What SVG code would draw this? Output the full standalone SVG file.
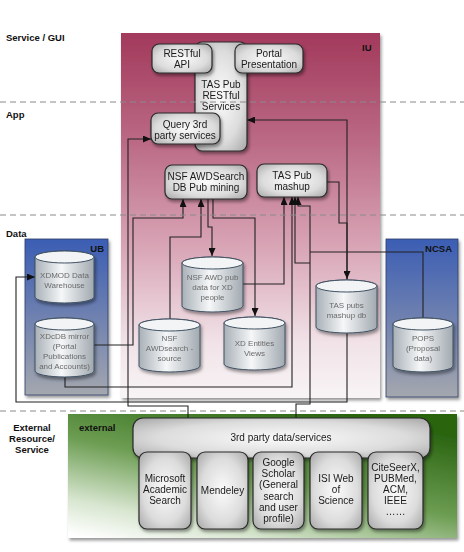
<svg xmlns="http://www.w3.org/2000/svg" width="464" height="552" viewBox="0 0 464 552">
<style>
.sec{font-family:"Liberation Sans",Arial,sans-serif;font-size:9.5px;font-weight:bold;fill:#111}
.lbl{font-family:"Liberation Sans",Arial,sans-serif;font-size:9.5px;font-weight:bold;fill:#111}
.bt{font-family:"Liberation Sans",Arial,sans-serif;font-size:10px;fill:#1a1a1a;text-anchor:middle}
.ct{font-family:"Liberation Sans",Arial,sans-serif;font-size:8px;fill:#6a6a6a;text-anchor:middle}
.box{fill:url(#boxGrad);stroke:#2a2a2a;stroke-width:1.2}
.cyl{fill:url(#cylGrad);stroke:#3f5061;stroke-width:1}
.cyltop{fill:#f2f4f6;stroke:#3f5061;stroke-width:1}
.dash{stroke:#8a8a8a;stroke-width:1;stroke-dasharray:6,4;fill:none}
.conn{fill:none;stroke:#222;stroke-width:1.1}
.arr{marker-end:url(#ah)}
</style>
<defs>
<linearGradient id="iuGrad" x1="0" y1="0" x2="0" y2="1">
<stop offset="0" stop-color="#a2395b"/>
<stop offset="0.3" stop-color="#bb6a85"/>
<stop offset="0.6" stop-color="#daa8b8"/>
<stop offset="0.85" stop-color="#f1e3e8"/>
<stop offset="1" stop-color="#f8f4f5"/>
</linearGradient>
<linearGradient id="ubGrad" x1="0" y1="0" x2="0" y2="1">
<stop offset="0" stop-color="#3b5db4"/>
<stop offset="0.5" stop-color="#6f81b0"/>
<stop offset="1" stop-color="#a4a7ae"/>
</linearGradient>
<linearGradient id="grGrad" x1="0.7" y1="0" x2="0.05" y2="1">
<stop offset="0" stop-color="#2b6511"/>
<stop offset="0.45" stop-color="#6c9d52"/>
<stop offset="0.8" stop-color="#d8e6d0"/>
<stop offset="1" stop-color="#ffffff"/>
</linearGradient>
<radialGradient id="boxGrad" cx="0.5" cy="0.5" r="0.7">
<stop offset="0" stop-color="#fbfbfb"/>
<stop offset="0.6" stop-color="#dcdcdc"/>
<stop offset="1" stop-color="#a6a6a6"/>
</radialGradient>
<linearGradient id="cylGrad" x1="0" y1="0" x2="1" y2="0">
<stop offset="0" stop-color="#a8b0b7"/>
<stop offset="0.45" stop-color="#f5f7f8"/>
<stop offset="1" stop-color="#a1a9b0"/>
</linearGradient>
<filter id="sh" x="-10%" y="-10%" width="130%" height="130%">
<feDropShadow dx="1.5" dy="2.5" stdDeviation="1.8" flood-color="#000" flood-opacity="0.4"/>
</filter>
<marker id="ah" markerWidth="8" markerHeight="7" refX="8" refY="3.5" orient="auto" markerUnits="userSpaceOnUse">
<path d="M0,0 L8,3.5 L0,7 z" fill="#111"/>
</marker>
</defs>

<rect width="464" height="552" fill="#ffffff"/>

<!-- regions -->
<g id="region-iu">
<rect x="121" y="33" width="259" height="365" fill="url(#iuGrad)" filter="url(#sh)"/>
<text class="lbl" x="362" y="51">IU</text>
</g>
<g id="region-ub">
<rect x="25" y="239" width="83" height="156" fill="url(#ubGrad)" stroke="#2e3f66" stroke-width="0.8" filter="url(#sh)"/>
<text class="lbl" x="104" y="252" text-anchor="end">UB</text>
</g>
<g id="region-ncsa">
<rect x="386" y="239" width="72" height="158" fill="url(#ubGrad)" stroke="#2e3f66" stroke-width="0.8" filter="url(#sh)"/>
<text class="lbl" x="452" y="252" text-anchor="end">NCSA</text>
</g>
<g id="region-external">
<rect x="68" y="414" width="389" height="124" fill="url(#grGrad)" filter="url(#sh)"/>
<text class="lbl" x="79" y="431">external</text>
</g>

<!-- section labels -->
<g id="section-labels">
<text class="sec" x="6" y="41">Service / GUI</text>
<text class="sec" x="6" y="118">App</text>
<text class="sec" x="6" y="237">Data</text>
<text class="sec" x="32" y="431" text-anchor="middle">External</text>
<text class="sec" x="32" y="442" text-anchor="middle">Resource/</text>
<text class="sec" x="32" y="453" text-anchor="middle">Service</text>
</g>

<!-- connectors -->
<g id="connectors">
<path class="conn arr" d="M188,418 V406 H128 V139 H151"/>
<path class="conn arr" d="M347,280 V120 H247"/>
<path class="conn arr" d="M327,182 H339 V223 H347 V279"/>
<path class="conn arr" d="M347,333 V402 H16 V277 H35"/>
<path class="conn arr" d="M94,345 H133 V218 H183 V199"/>
<path class="conn arr" d="M170,319 V237 H201 V199"/>
<path class="conn arr" d="M208,199 V227 H212 V256"/>
<path class="conn arr" d="M213,199 V218 H255 V316"/>
<path class="conn arr" d="M243,284 H284 V197"/>
<path class="conn arr" d="M65,377 V387 H292 V197"/>
<path class="conn arr" d="M296,418 V404 H310 V206 H298 V197"/>
<path class="conn arr" d="M310,263 H295 V197"/>
<path class="conn" d="M423,318 V252 H310"/>
</g>

<!-- nodes -->
<g id="node-tas-restful" filter="url(#sh)">
<rect class="box" x="195" y="42" width="52" height="109" rx="7"/>
<text class="bt" x="221" y="88">TAS Pub</text>
<text class="bt" x="221" y="99">RESTful</text>
<text class="bt" x="221" y="110">Services</text>
</g>
<g id="node-restful-api" filter="url(#sh)">
<rect class="box" x="152" y="44" width="60" height="29" rx="7"/>
<text class="bt" x="182" y="57">RESTful</text>
<text class="bt" x="182" y="68">API</text>
</g>
<g id="node-portal" filter="url(#sh)">
<rect class="box" x="235" y="44" width="68" height="29" rx="7"/>
<text class="bt" x="269" y="57">Portal</text>
<text class="bt" x="269" y="68">Presentation</text>
</g>
<g id="node-query" filter="url(#sh)">
<rect class="box" x="151" y="113" width="69" height="31" rx="7"/>
<text class="bt" x="185" y="128">Query 3rd</text>
<text class="bt" x="185" y="139">party services</text>
</g>
<g id="node-nsf-mining" filter="url(#sh)">
<rect class="box" x="165" y="165" width="82" height="34" rx="7"/>
<text class="bt" x="206" y="180">NSF AWDSearch</text>
<text class="bt" x="206" y="191">DB Pub mining</text>
</g>
<g id="node-tas-mashup" filter="url(#sh)">
<rect class="box" x="257" y="164" width="70" height="33" rx="7"/>
<text class="bt" x="292" y="179">TAS Pub</text>
<text class="bt" x="292" y="190">mashup</text>
</g>

<g id="node-xdmod" filter="url(#sh)">
<path class="cyl" d="M35,257 A29.5,6 0 0 1 94,257 V297 A29.5,6 0 0 1 35,297 Z"/>
<ellipse class="cyltop" cx="64.5" cy="257" rx="29.5" ry="6"/>
<text class="ct" x="64.5" y="278">XDMOD Data</text>
<text class="ct" x="64.5" y="288">Warehouse</text>
</g>
<g id="node-xdcdb" filter="url(#sh)">
<path class="cyl" d="M35,324 A29.5,6 0 0 1 94,324 V371 A29.5,6 0 0 1 35,371 Z"/>
<ellipse class="cyltop" cx="64.5" cy="324" rx="29.5" ry="6"/>
<text class="ct" x="64.5" y="339">XDcDB mirror</text>
<text class="ct" x="64.5" y="349">(Portal</text>
<text class="ct" x="64.5" y="359">Publications</text>
<text class="ct" x="64.5" y="369">and Accounts)</text>
</g>
<g id="node-nsf-awd-pub" filter="url(#sh)">
<path class="cyl" d="M182,263 A30.5,6 0 0 1 243,263 V306 A30.5,6 0 0 1 182,306 Z"/>
<ellipse class="cyltop" cx="212.5" cy="263" rx="30.5" ry="6"/>
<text class="ct" x="212.5" y="280">NSF AWD pub</text>
<text class="ct" x="212.5" y="290">data for XD</text>
<text class="ct" x="212.5" y="300">people</text>
</g>
<g id="node-nsf-source" filter="url(#sh)">
<path class="cyl" d="M139,325 A30.5,6 0 0 1 200,325 V366 A30.5,6 0 0 1 139,366 Z"/>
<ellipse class="cyltop" cx="169.5" cy="325" rx="30.5" ry="6"/>
<text class="ct" x="169.5" y="341">NSF</text>
<text class="ct" x="169.5" y="351">AWDsearch -</text>
<text class="ct" x="169.5" y="361">source</text>
</g>
<g id="node-xd-entities" filter="url(#sh)">
<path class="cyl" d="M224,323 A30.5,6 0 0 1 285,323 V364 A30.5,6 0 0 1 224,364 Z"/>
<ellipse class="cyltop" cx="254.5" cy="323" rx="30.5" ry="6"/>
<text class="ct" x="254.5" y="346">XD Entities</text>
<text class="ct" x="254.5" y="356">Views</text>
</g>
<g id="node-tas-pubs-db" filter="url(#sh)">
<path class="cyl" d="M316,286 A30.5,6 0 0 1 377,286 V327 A30.5,6 0 0 1 316,327 Z"/>
<ellipse class="cyltop" cx="346.5" cy="286" rx="30.5" ry="6"/>
<text class="ct" x="346.5" y="308">TAS pubs</text>
<text class="ct" x="346.5" y="318">mashup db</text>
</g>
<g id="node-pops" filter="url(#sh)">
<path class="cyl" d="M393,324 A30,6 0 0 1 453,324 V366 A30,6 0 0 1 393,366 Z"/>
<ellipse class="cyltop" cx="423" cy="324" rx="30" ry="6"/>
<text class="ct" x="423" y="341">POPS</text>
<text class="ct" x="423" y="351">(Proposal</text>
<text class="ct" x="423" y="361">data)</text>
</g>

<g id="node-3rd-party" filter="url(#sh)">
<rect class="box" x="133" y="418" width="297" height="40" rx="10"/>
<text class="bt" x="281" y="441">3rd party data/services</text>
</g>
<g id="node-microsoft" filter="url(#sh)">
<rect class="box" x="139" y="452" width="52" height="77" rx="8"/>
<text class="bt" x="165" y="482">Microsoft</text>
<text class="bt" x="165" y="493">Academic</text>
<text class="bt" x="165" y="504">Search</text>
</g>
<g id="node-mendeley" filter="url(#sh)">
<rect class="box" x="197" y="452" width="51" height="77" rx="8"/>
<text class="bt" x="222.5" y="494">Mendeley</text>
</g>
<g id="node-google" filter="url(#sh)">
<rect class="box" x="253" y="452" width="51" height="77" rx="8"/>
<text class="bt" x="278.5" y="466">Google</text>
<text class="bt" x="278.5" y="477">Scholar</text>
<text class="bt" x="278.5" y="488">(General</text>
<text class="bt" x="278.5" y="500">search</text>
<text class="bt" x="278.5" y="511">and user</text>
<text class="bt" x="278.5" y="522">profile)</text>
</g>
<g id="node-isi" filter="url(#sh)">
<rect class="box" x="310" y="452" width="52" height="77" rx="8"/>
<text class="bt" x="336" y="482">ISI Web</text>
<text class="bt" x="336" y="493">of</text>
<text class="bt" x="336" y="504">Science</text>
</g>
<g id="node-citeseer" filter="url(#sh)">
<rect class="box" x="368" y="452" width="55" height="77" rx="8"/>
<text class="bt" x="395.5" y="471">CiteSeerX,</text>
<text class="bt" x="395.5" y="482">PUBMed,</text>
<text class="bt" x="395.5" y="493">ACM,</text>
<text class="bt" x="395.5" y="504">IEEE</text>
<text class="bt" x="395.5" y="515">……</text>
</g>

<!-- dashed layer separators -->
<g id="separators">
<line class="dash" x1="0" y1="102" x2="464" y2="102"/>
<line class="dash" x1="0" y1="215" x2="464" y2="215"/>
<line class="dash" x1="0" y1="411" x2="464" y2="411"/>
</g>
</svg>
